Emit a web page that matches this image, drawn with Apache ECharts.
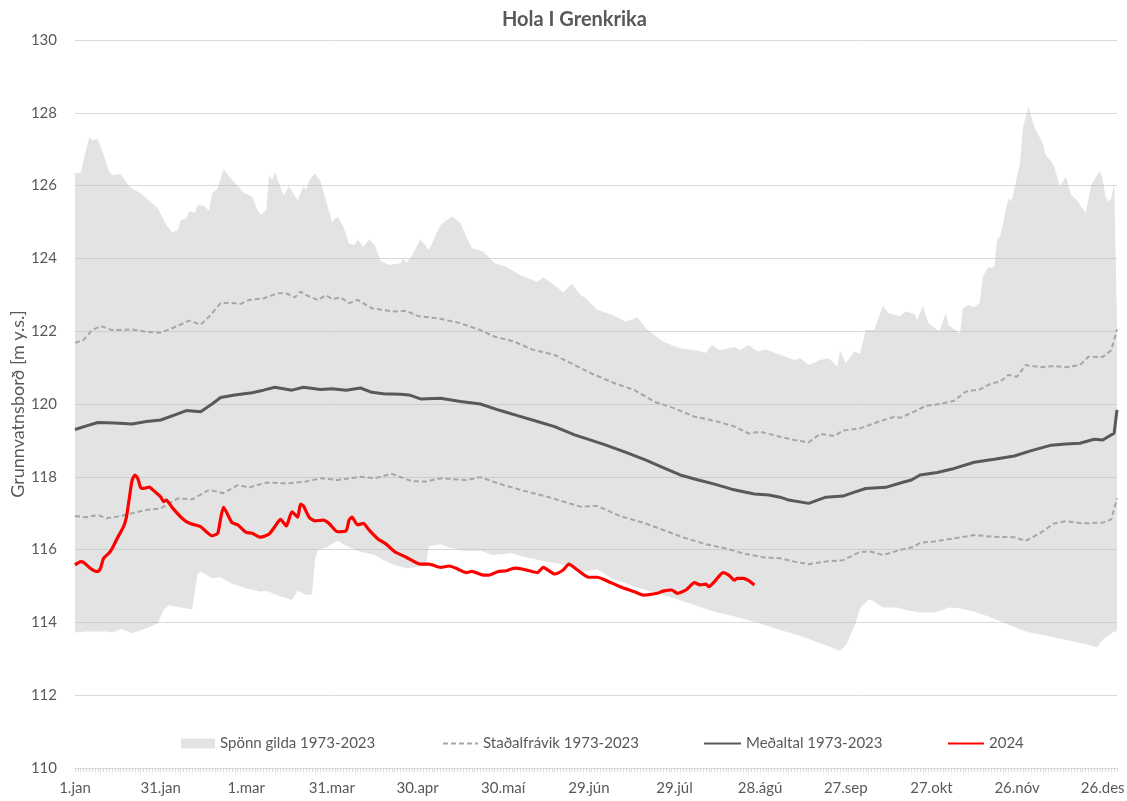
<!DOCTYPE html>
<html>
<head>
<meta charset="utf-8">
<script src="https://cdn.jsdelivr.net/npm/echarts@6/dist/echarts.min.js"></script>
<style>
html,body{margin:0;padding:0;background:#fff;}
#chart{width:1127px;height:801px;}
</style>
</head>
<body>
<div id="chart"></div>
<script>
// Tick labels (every 30 days, leap year 2024)
const tickLabels = ['1.jan','31.jan','1.mar','31.mar','30.apr','30.maí','29.jún','29.júl','28.ágú','27.sep','27.okt','26.nóv','26.des'];

// Range (Spönn gilda 1973-2023): max edge
const maxDays = [0,2,3,5,6,8,9,12,13,16,19,23,25,29,32,34,36,37,39,40,42,43,45,47,48,50,52,54,56,59,62,64,65,67,68,69,70,73,75,78,80,81,82,84,86,88,90,92,94,96,98,99,101,103,105,107,110,114,115,116,118,121,124,128,132,135,137,139,143,147,151,156,162,164,169,171,174,177,179,183,188,193,197,200,206,212,218,221,223,226,231,233,236,239,242,247,252,254,257,261,264,267,268,270,273,275,277,280,283,285,289,291,294,295,297,299,302,303,305,306,310,311,313,315,316,317,318,320,321,322,323,324,327,328,330,331,332,334,336,339,340,342,343,345,347,349,351,354,356,359,360,361,362,363,364,365];
const maxVals = [126.34,126.35,126.70,127.33,127.25,127.27,127.07,126.38,126.29,126.32,125.97,125.79,125.65,125.38,124.92,124.72,124.78,125.05,125.10,125.31,125.24,125.47,125.45,125.31,125.79,125.93,126.45,126.25,126.08,125.81,125.70,125.33,125.19,125.33,126.29,126.15,126.38,125.74,125.97,125.60,125.97,125.88,126.15,126.34,126.11,125.56,125.01,125.15,124.87,124.41,124.37,124.52,124.32,124.52,124.37,123.94,123.82,123.87,124.00,123.88,124.07,124.52,124.23,124.92,125.15,124.98,124.60,124.28,124.19,123.87,123.77,123.54,123.36,123.48,123.20,123.06,123.30,123.00,122.90,122.58,122.45,122.26,122.38,122.08,121.71,121.53,121.46,121.41,121.62,121.48,121.57,121.48,121.62,121.44,121.50,121.35,121.21,121.26,121.07,121.21,121.26,121.03,121.46,121.12,121.44,121.38,122.03,122.03,122.69,122.49,122.42,122.54,122.47,122.31,122.69,122.22,122.03,122.03,122.49,122.17,121.94,122.63,122.72,122.66,122.72,122.80,123.50,123.77,123.73,123.77,124.51,124.60,125.65,125.56,126.25,126.61,127.57,128.17,127.62,127.16,126.84,126.66,126.52,125.97,126.25,125.74,125.60,125.24,126.02,126.41,126.15,125.70,125.56,125.65,126.06,122.30];

// Range: min edge
const minDays = [0,4,11,13,16,20,25,29,31,33,37,41,43,44,48,51,55,60,65,67,72,76,78,81,83,84,85,88,92,95,100,105,109,112,116,121,123,124,128,131,136,142,146,153,158,165,172,178,183,188,196,203,210,217,224,231,238,247,254,261,268,270,273,275,278,280,283,288,291,296,301,304,306,310,315,320,326,333,340,347,354,358,360,364,365];
const minVals = [113.72,113.75,113.75,113.72,113.82,113.70,113.84,113.97,114.34,114.48,114.41,114.36,115.35,115.39,115.21,115.24,115.06,114.94,114.84,114.87,114.71,114.62,114.87,114.75,114.77,115.70,115.99,116.06,116.24,116.10,115.94,115.85,115.67,115.58,115.49,115.53,115.62,116.10,116.15,116.06,115.97,115.97,115.85,115.90,115.79,115.67,115.58,115.39,115.46,115.21,114.98,114.82,114.66,114.48,114.29,114.16,114.02,113.79,113.63,113.43,113.22,113.38,113.88,114.39,114.63,114.57,114.41,114.41,114.34,114.27,114.27,114.34,114.41,114.39,114.29,114.16,113.97,113.75,113.63,113.52,113.41,113.32,113.52,113.75,113.75];

// Standard deviation band (Staðalfrávik 1973-2023)
const stdUpDays = [0,3,6,9,13,20,25,30,34,40,44,47,51,54,58,61,66,71,74,77,79,81,85,88,90,93,96,99,104,108,112,116,120,128,135,142,147,154,160,168,175,182,189,196,203,210,217,224,231,236,240,247,252,257,261,266,269,275,281,287,289,294,298,303,308,312,317,321,324,327,330,333,338,343,347,352,355,360,363,365];
const stdUpVals = [121.68,121.76,122.03,122.14,122.03,122.05,121.98,121.96,122.08,122.29,122.18,122.40,122.77,122.78,122.75,122.86,122.90,123.04,123.04,122.93,123.09,122.99,122.86,122.99,122.88,122.93,122.77,122.86,122.63,122.58,122.54,122.56,122.42,122.34,122.22,122.03,121.85,121.71,121.50,121.35,121.07,120.80,120.57,120.38,120.06,119.88,119.65,119.54,119.38,119.19,119.24,119.10,119.01,118.95,119.18,119.12,119.27,119.33,119.50,119.65,119.62,119.79,119.95,120.00,120.09,120.34,120.40,120.57,120.61,120.80,120.75,121.07,121.01,121.04,121.01,121.07,121.30,121.29,121.48,122.05];
const stdLoDays = [0,4,8,11,16,20,25,30,36,41,47,52,57,61,67,74,81,86,92,100,105,111,118,123,128,137,142,149,157,166,177,183,191,199,206,214,221,228,235,241,247,252,257,263,269,275,279,283,289,294,296,301,308,315,322,329,333,338,343,347,353,360,363,365];
const stdLoVals = [116.92,116.89,116.95,116.86,116.92,117.00,117.09,117.13,117.41,117.38,117.64,117.55,117.77,117.71,117.84,117.82,117.87,117.96,117.91,118.00,117.96,118.08,117.88,117.87,117.96,117.91,117.99,117.80,117.62,117.44,117.18,117.20,116.92,116.74,116.54,116.31,116.15,116.03,115.88,115.79,115.76,115.67,115.60,115.67,115.71,115.94,115.94,115.85,115.99,116.08,116.19,116.22,116.31,116.40,116.35,116.34,116.24,116.45,116.72,116.78,116.72,116.74,116.83,117.41];

// Mean (Meðaltal 1973-2023)
const meanDays = [0,4,8,14,20,25,30,35,39,44,48,51,56,62,66,70,76,80,86,90,95,100,104,108,114,117,121,128,135,142,149,155,162,168,175,181,186,193,200,206,212,218,224,230,238,243,247,250,257,263,269,273,277,284,290,293,296,302,308,315,322,329,335,342,347,352,357,360,364,365];
const meanVals = [119.30,119.40,119.49,119.48,119.45,119.52,119.56,119.70,119.82,119.79,120.00,120.18,120.25,120.31,120.38,120.46,120.38,120.46,120.40,120.42,120.38,120.44,120.32,120.28,120.27,120.25,120.14,120.16,120.07,120.00,119.82,119.68,119.52,119.38,119.15,119.00,118.87,118.67,118.46,118.25,118.05,117.92,117.80,117.66,117.53,117.50,117.44,117.36,117.27,117.44,117.47,117.58,117.68,117.71,117.85,117.91,118.05,118.12,118.23,118.40,118.48,118.57,118.72,118.87,118.90,118.92,119.03,119.01,119.20,119.84];

// 2024
const y2024Days = [0,2,3,5,7,8,9,10,12,13,15,17,18,19,20,21,22,23,24,26,27,30,31,32,34,37,39,41,44,46,48,50,51,52,53,55,57,60,62,65,68,70,72,74,76,78,79,80,82,84,87,89,92,95,96,97,99,101,103,106,109,112,116,121,124,128,131,134,137,139,143,145,148,151,154,157,160,162,164,168,171,173,176,179,180,183,186,191,196,199,204,206,209,211,214,217,219,221,222,224,227,229,231,232,234,236,238];
const y2024Vals = [115.58,115.67,115.65,115.51,115.41,115.40,115.50,115.76,115.91,116.03,116.34,116.63,116.89,117.40,117.90,118.05,117.95,117.70,117.68,117.72,117.66,117.45,117.32,117.36,117.16,116.90,116.77,116.70,116.63,116.49,116.38,116.45,116.85,117.16,117.04,116.74,116.68,116.47,116.45,116.34,116.43,116.63,116.83,116.65,117.04,116.89,117.25,117.20,116.89,116.79,116.81,116.72,116.49,116.52,116.81,116.89,116.68,116.72,116.54,116.30,116.15,115.94,115.79,115.60,115.60,115.51,115.55,115.47,115.37,115.40,115.30,115.30,115.39,115.42,115.49,115.46,115.40,115.37,115.51,115.33,115.44,115.60,115.44,115.27,115.24,115.24,115.15,114.98,114.84,114.75,114.80,114.86,114.89,114.80,114.89,115.09,115.03,115.05,114.98,115.12,115.37,115.30,115.16,115.21,115.21,115.15,115.03];

// ---- build tables for the library ----
const zip = (d, v) => d.map((x, i) => [x, v[i]]);
const categories = [];
for (let i = 0; i <= 365; i++) categories.push(i % 30 === 0 ? tickLabels[i / 30] : '');

const maxPts = zip(maxDays, maxVals);
const minPts = zip(minDays, minVals);
const bandColor = 'rgba(190,190,190,0.43)';
const txt = '#595959';
const font = 'Lato';

const chart = echarts.init(document.getElementById('chart'), null, {renderer: 'canvas'});

const legendBase = {
  top: 731, itemHeight: 14, orient: 'horizontal',
  textStyle: {color: txt, fontSize: 15, fontFamily: font},
  itemStyle: {opacity: 0},
  selectedMode: false
};

chart.setOption({
  animation: false,
  backgroundColor: '#ffffff',
  textStyle: {fontFamily: font},
  title: {
    text: 'Hola I Grenkrika',
    left: 497, top: 5,
    textStyle: {color: txt, fontSize: 20, fontWeight: 'bold', fontFamily: font}
  },
  legend: [
    Object.assign({}, legendBase, {left: 176, itemWidth: 34, itemHeight: 10, itemStyle: {opacity: 1}, data: [{name: 'Spönn gilda 1973-2023', icon: 'rect', itemStyle: {color: '#e3e3e3'}}]}),
    Object.assign({}, legendBase, {left: 437, itemWidth: 35, data: ['Staðalfrávik 1973-2023']}),
    Object.assign({}, legendBase, {left: 698, itemWidth: 37, data: ['Meðaltal 1973-2023']}),
    Object.assign({}, legendBase, {left: 942, itemWidth: 36, data: ['2024']})
  ],
  grid: {left: 75, right: 10, top: 40, bottom: 33, containLabel: false, outerBoundsMode: 'none'},
  xAxis: {
    type: 'category',
    data: categories,
    boundaryGap: false,
    axisLine: {show: true, lineStyle: {color: '#d9d9d9', width: 1}},
    axisTick: {show: true, interval: 0, length: 4, lineStyle: {color: '#d9d9d9'}},
    axisLabel: {interval: 0, color: txt, fontSize: 15, fontFamily: font, margin: 13},
    splitLine: {show: false}
  },
  yAxis: {
    type: 'value',
    min: 110, max: 130, interval: 2,
    name: 'Grunnvatnsborð [m y.s.]',
    nameLocation: 'middle',
    nameGap: 48,
    nameMoveOverlap: false,
    nameTextStyle: {color: txt, fontSize: 18, fontFamily: font},
    axisLine: {show: false},
    axisTick: {show: false},
    axisLabel: {color: txt, fontSize: 15, fontFamily: font, margin: 18},
    splitLine: {lineStyle: {color: '#d9d9d9', width: 1}}
  },
  series: [
    {
      name: 'Spönn gilda 1973-2023',
      type: 'custom',
      itemStyle: {color: '#e3e3e3'},
      data: [[0, 120]],
      silent: true,
      renderItem: function (params, api) {
        const pts = maxPts.map(p => api.coord(p))
          .concat(minPts.slice().reverse().map(p => api.coord(p)));
        return {type: 'polygon', shape: {points: pts}, style: {fill: bandColor}};
      },
      z: 1
    },
    {
      name: 'Staðalfrávik 1973-2023', type: 'line', symbol: 'none',
      data: zip(stdUpDays, stdUpVals),
      lineStyle: {color: '#a6a6a6', width: 2, type: [5, 3]},
      itemStyle: {color: '#a6a6a6'}, z: 3
    },
    {
      name: 'Staðalfrávik 1973-2023', type: 'line', symbol: 'none',
      data: zip(stdLoDays, stdLoVals),
      lineStyle: {color: '#a6a6a6', width: 2, type: [5, 3]},
      itemStyle: {color: '#a6a6a6'}, z: 3
    },
    {
      name: 'Meðaltal 1973-2023', type: 'line', symbol: 'none',
      data: zip(meanDays, meanVals),
      lineStyle: {color: '#595959', width: 3},
      itemStyle: {color: '#595959'}, z: 4
    },
    {
      name: '2024', type: 'line', symbol: 'none', smooth: 0.2,
      data: zip(y2024Days, y2024Vals),
      lineStyle: {color: '#ff0000', width: 3.2},
      itemStyle: {color: '#ff0000'}, z: 5
    }
  ]
});
</script>
</body>
</html>
